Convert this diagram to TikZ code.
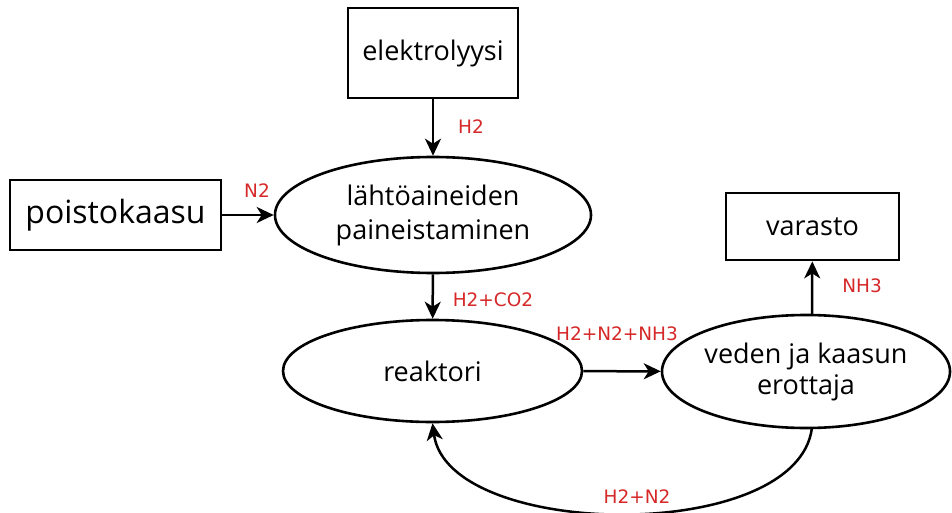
\documentclass[tikz,border=0pt]{standalone}
\usepackage{fontspec}
\setmainfont{Open Sans}
\newfontfamily\labfont{DejaVu Sans}
\usetikzlibrary{shapes.geometric,arrows.meta}
\definecolor{labred}{RGB}{214,40,40}
\begin{document}
\begin{tikzpicture}[x=1pt,y=-1pt,
  box/.style={draw,line width=2.8pt,inner sep=0pt,font=\fontsize{27}{33}\selectfont},
  ell/.style={draw,ellipse,line width=2.6pt,inner sep=0pt,align=center,font=\fontsize{27}{34}\selectfont},
  flow/.style={line width=2.5pt,-{Stealth[length=17pt,width=16pt,inset=5pt]}},
  lab/.style={text=labred,inner sep=0pt,font=\labfont\fontsize{18.5}{22}\selectfont}]
\useasboundingbox (0,0) rectangle (952,513);
\node[box,minimum width=170pt,minimum height=90pt] (elek) at (433,53) {elektrolyysi};
\node[box,minimum width=211pt,minimum height=70pt,font=\fontsize{32}{38}\selectfont] (poisto) at (115.5,215) {poistokaasu};
\node[ell,minimum width=316pt,minimum height=116pt] (paine) at (433,215) {lähtöaineiden\\paineistaminen};
\node[ell,minimum width=299pt,minimum height=102pt] (reak) at (432.5,371) {reaktori};
\node[ell,minimum width=288pt,minimum height=113pt,font=\fontsize{27}{31}\selectfont] (erot) at (806,371.5) {veden ja kaasun\\erottaja};
\node[box,minimum width=173pt,minimum height=67pt] (var) at (812.5,226.5) {varasto};
\coordinate (sepTop) at (812,315.5);
\coordinate (sepBot) at (812,427.5);
\draw[flow] (elek) -- (paine);
\draw[flow] (poisto) -- (paine);
\draw[flow] (paine) -- (reak);
\draw[flow] (reak) -- (erot);
\draw[flow] (sepTop) -- (var);
\draw[flow] (sepBot) .. controls (798,545) and (448,540) .. (reak.south);
\node[lab] (lH2) at (471,127) {H2};
\node[lab] (lN2) at (257,191) {N2};
\node[lab] (lH2CO2) at (493,300) {H2+CO2};
\node[lab] (lH2N2NH3) at (617,334) {H2+N2+NH3};
\node[lab] (lNH3) at (862,286) {NH3};
\node[lab] (lH2N2) at (637,497) {H2+N2};
\end{tikzpicture}
\end{document}
